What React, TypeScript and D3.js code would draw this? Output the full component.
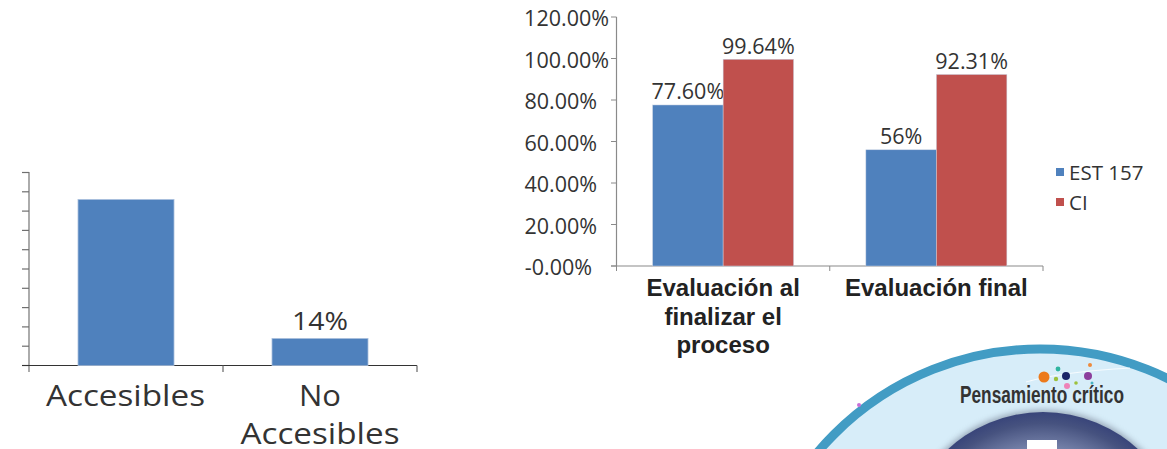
import React from "react";
import * as d3 from "d3";

const accessCategories = [["Accesibles"], ["No", "Accesibles"]];
const accessValues = [86, 14];
const accessLabels = ["", "14%"];

const stageCategories = [
  ["Evaluación al", "finalizar el", "proceso"],
  ["Evaluación final"],
];
const seriesNames = ["EST 157", "CI"];
const seriesColors = ["#4f81bd", "#c0504d"];
const est157Values = [77.6, 56];
const ciValues = [99.64, 92.31];
const est157Labels = ["77.60%", "56%"];
const ciLabels = ["99.64%", "92.31%"];
const stageTicks = [0, 20, 40, 60, 80, 100, 120];
const stageTickLabels = ["-0.00%", "20.00%", "40.00%", "60.00%", "80.00%", "100.00%", "120.00%"];

const logoDots = [
  { x: 1044, y: 377, r: 5.5, c: "#ec7a1c" },
  { x: 1058, y: 369, r: 2.4, c: "#2eb5a0" },
  { x: 1056, y: 379, r: 2.2, c: "#9cc13c" },
  { x: 1066, y: 376, r: 4, c: "#1b2468" },
  { x: 1067, y: 386, r: 3, c: "#ee82b8" },
  { x: 1076, y: 383, r: 1.8, c: "#9cc13c" },
  { x: 1088, y: 376, r: 4, c: "#8c3f9c" },
  { x: 1090, y: 365, r: 2, c: "#ee8a3c" },
  { x: 1092, y: 383, r: 1.5, c: "#49b4c4" },
];

const FONT = "'Open Sans', 'DejaVu Sans', sans-serif";

function AccessChart() {
  const y = d3.scaleLinear().domain([0, 100]).range([365.5, 172.5]);
  const x = d3.scaleBand<number>().domain([0, 1]).range([29, 417]);
  const barWidth = 96;
  return (
    <g>
      <line x1={29} x2={29} y1={172} y2={372} stroke="#7f7f7f" strokeWidth={1.3} />
      {d3.range(0, 101, 10).map((t) => (
        <line key={t} x1={22} x2={29} y1={y(t)} y2={y(t)} stroke="#6f6f6f" strokeWidth={1.2} />
      ))}
      <line x1={22} x2={417} y1={365.5} y2={365.5} stroke="#333" strokeWidth={1.2} />
      <line x1={223} x2={223} y1={365.5} y2={372} stroke="#666" strokeWidth={1.2} />
      <line x1={417} x2={417} y1={365.5} y2={372} stroke="#666" strokeWidth={1.2} />
      {accessValues.map((v, i) => {
        const cx = (x(i) as number) + x.bandwidth() / 2;
        return (
          <g key={i}>
            <rect x={cx - barWidth / 2} y={y(v)} width={barWidth} height={y(0) - y(v)}
              fill={seriesColors[0]} stroke="#a9bfdc" strokeWidth={0.8} />
            {accessLabels[i] && (
              <text x={cx} y={y(v) - 8} textAnchor="middle" fontSize={25} fill="#333"
                textLength={56} lengthAdjust="spacingAndGlyphs">{accessLabels[i]}</text>
            )}
            {accessCategories[i].map((line, k) => (
              <text key={k} x={i === 0 ? cx - 0.5 : cx} y={406 + k * 38} textAnchor="middle" fontSize={30} fill="#333"
                textLength={line === "No" ? 42 : 159} lengthAdjust="spacingAndGlyphs">
                {line}
              </text>
            ))}
          </g>
        );
      })}
    </g>
  );
}

function StageChart() {
  const y = d3.scaleLinear().domain([0, 120]).range([266, 17]);
  const x = d3.scaleBand<number>().domain([0, 1]).range([616.5, 1043]);
  const barWidth = 70.5;
  const sets = [
    { values: est157Values, labels: est157Labels, color: seriesColors[0], side: -1 },
    { values: ciValues, labels: ciLabels, color: seriesColors[1], side: 0 },
  ];
  return (
    <g>
      <line x1={616.5} x2={616.5} y1={17} y2={266} stroke="#8a8a8a" strokeWidth={1.2} />
      {stageTicks.map((t, i) => (
        <g key={t}>
          <line x1={611} x2={616.5} y1={y(t)} y2={y(t)} stroke="#8a8a8a" strokeWidth={1} />
          <text x={t === 0 ? 592 : t >= 100 ? 609 : 597} y={y(t) + 9} textAnchor="end" fontSize={21.5} fill="#333">
            {stageTickLabels[i]}
          </text>
        </g>
      ))}
      <line x1={611} x2={1043} y1={266} y2={266} stroke="#8a8a8a" strokeWidth={1.2} />
      {[0, 1, 2].map((i) => {
        const px = 616.5 + i * x.step();
        return <line key={i} x1={px} x2={px} y1={266} y2={271} stroke="#8a8a8a" />;
      })}
      {stageCategories.map((cat, i) => {
        const cx = (x(i) as number) + x.bandwidth() / 2;
        return (
          <g key={i}>
            {sets.map((s, k) => (
              <g key={k}>
                <rect x={cx + s.side * barWidth} y={y(s.values[i])} width={barWidth}
                  height={y(0) - y(s.values[i])} fill={s.color} stroke="#c9d3e2" strokeWidth={0.5} />
                <text x={cx + s.side * barWidth + barWidth / 2} y={y(s.values[i]) - 5.5}
                  textAnchor="middle" fontSize={21.5} fill="#333">
                  {s.labels[i]}
                </text>
              </g>
            ))}
            {cat.map((line, k) => (
              <text key={k} x={cx} y={296 + k * 28.5} textAnchor="middle" fontSize={24}
                fontWeight={700} fill="#222" fontFamily="'Liberation Sans', sans-serif">
                {line}
              </text>
            ))}
          </g>
        );
      })}
      {seriesNames.map((name, i) => (
        <g key={name}>
          <rect x={1056} y={168 + i * 30} width={8} height={8} fill={seriesColors[i]} />
          <text x={1069} y={180 + i * 30} fontSize={20.5} fill="#333">{name}</text>
        </g>
      ))}
    </g>
  );
}

function Badge() {
  return (
    <g>
      <defs>
        <radialGradient id="core" cx="50%" cy="50%" r="50%">
          <stop offset="0%" stopColor="#8f97b8" />
          <stop offset="75%" stopColor="#7480a8" />
          <stop offset="92%" stopColor="#46527f" />
          <stop offset="100%" stopColor="#39457a" />
        </radialGradient>
        <filter id="coreShadow" x="-20%" y="-20%" width="140%" height="140%">
          <feGaussianBlur stdDeviation="3" />
        </filter>
      </defs>
      <circle cx={1040} cy={640} r={295} fill="#d7edf9" />
      <circle cx={1040} cy={640} r={291} fill="none" stroke="#429cc4" strokeWidth={9} />
      <circle cx={859} cy={405} r={2} fill="#c86fd8" />
      <circle cx={1043} cy={552} r={142} fill="#6b7488" opacity={0.6} filter="url(#coreShadow)" />
      <circle cx={1043} cy={552} r={140} fill="url(#core)" />
      <rect x={1027} y={440} width={30} height={12} fill="#fff" />
      <path d="M1026 382 Q1060 372 1130 368" fill="none" stroke="#fff" strokeWidth={0.8} />
      {logoDots.map((d, i) => <circle key={i} cx={d.x} cy={d.y} r={d.r} fill={d.c} />)}
      <text x={1042} y={403} textAnchor="middle" fontSize={23} fontWeight={700} fill="#333"
        fontFamily="'Liberation Sans Narrow', 'Liberation Sans', sans-serif"
        textLength={164} lengthAdjust="spacingAndGlyphs">Pensamiento crítico</text>
    </g>
  );
}

export default function App() {
  return (
    <svg width={1167} height={449} viewBox="0 0 1167 449"
      style={{ position: "fixed", left: 0, top: 0, background: "#fff" }} fontFamily={FONT}>
      <AccessChart />
      <StageChart />
      <Badge />
    </svg>
  );
}
